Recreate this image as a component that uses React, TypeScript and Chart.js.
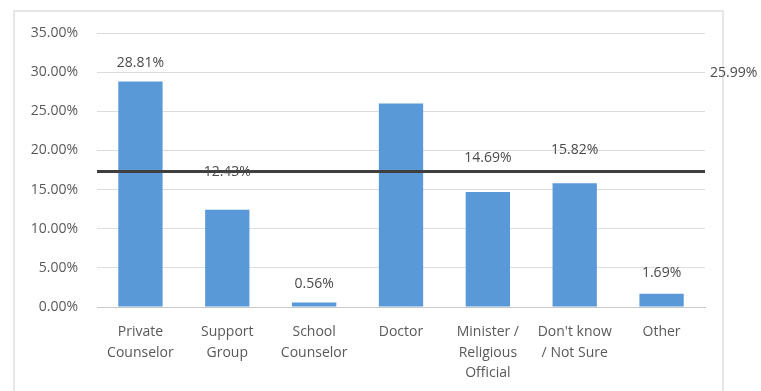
import React, { useEffect, useRef } from "react";
import { Chart, registerables } from "chart.js";

Chart.register(...registerables);

const categories: string[][] = [
  ["Private", "Counselor"],
  ["Support", "Group"],
  ["School", "Counselor"],
  ["Doctor"],
  ["Minister /", "Religious", "Official"],
  ["Don't know", "/ Not Sure"],
  ["Other"],
];
const values = [28.81, 12.43, 0.56, 25.99, 14.69, 15.82, 1.69];
const yTicks = [0, 5, 10, 15, 20, 25, 30, 35];
const referenceLine = 17.3;
// where each data label sits (axis units)
const labelY = [31.2, 17.25, 2.95, 29.9, 19.0, 20.05, 4.35];
const labelCategoryShift = [0, 0, 0, 3.83, 0, 0, 0];

const FONT = "'Open Sans', sans-serif";
const TEXT = "#595959";

const overlayPlugin = {
  id: "overlay",
  afterDatasetsDraw(chart: any) {
    const { ctx, chartArea, scales } = chart;
    const x = scales.x;
    const y = scales.y;
    ctx.save();
    const ly = y.getPixelForValue(referenceLine);
    ctx.strokeStyle = "#3f3f3f";
    ctx.lineWidth = 3;
    ctx.beginPath();
    ctx.moveTo(chartArea.left, ly);
    ctx.lineTo(chartArea.right, ly);
    ctx.stroke();
    ctx.fillStyle = "#4a4a4a";
    ctx.font = `14px ${FONT}`;
    ctx.textAlign = "center";
    ctx.textBaseline = "middle";
    const step = x.getPixelForValue(1) - x.getPixelForValue(0);
    values.forEach((v, i) => {
      const px = x.getPixelForValue(i) + labelCategoryShift[i] * step;
      const py = y.getPixelForValue(labelY[i]);
      ctx.fillText(v.toFixed(2) + "%", px, py);
    });
    ctx.restore();
  },
};

function ChartView() {
  const ref = useRef<HTMLCanvasElement>(null);
  useEffect(() => {
    if (!ref.current) return;
    const chart = new Chart(ref.current, {
      type: "bar",
      data: {
        labels: categories as any,
        datasets: [
          {
            data: values,
            backgroundColor: "#5a99d8",
            borderWidth: 0,
            barPercentage: 0.51,
            categoryPercentage: 1,
          },
        ],
      },
      options: {
        animation: false,
        responsive: false,
        maintainAspectRatio: false,
        layout: { padding: { left: 0, right: 56, top: 33, bottom: 0 } },
        plugins: { legend: { display: false }, tooltip: { enabled: false } },
        scales: {
          x: {
            grid: { display: false, drawTicks: false },
            border: { color: "#c8c8c8", width: 1 },
            ticks: {
              color: TEXT,
              font: { family: FONT, size: 14, lineHeight: 1.46 },
              padding: 15,
              maxRotation: 0,
              autoSkip: false,
            },
            afterFit(axis: any) {
              axis.height = 84;
            },
          },
          y: {
            min: 0,
            max: 35,
            afterBuildTicks(axis: any) {
              axis.ticks = yTicks.map((v) => ({ value: v }));
            },
            grid: { color: "#dcdcdc", drawTicks: false },
            border: { display: false },
            ticks: {
              color: TEXT,
              font: { family: FONT, size: 14 },
              padding: 19,
              callback: (v: any) => Number(v).toFixed(2) + "%",
            },
            afterFit(axis: any) {
              axis.width = 97;
            },
          },
        },
      },
      plugins: [overlayPlugin],
    });
    return () => chart.destroy();
  }, []);
  return (
    <div style={{ position: "fixed", left: 0, top: 0, width: 761, height: 391, overflow: "hidden", background: "#fff" }}>
      <div
        style={{
          position: "absolute",
          left: 13,
          top: 10,
          width: 711,
          height: 400,
          border: "2px solid #e6e6e6",
          boxSizing: "border-box",
        }}
      />
      <canvas ref={ref} width={761} height={391} style={{ position: "absolute", left: 0, top: 0 }} />
    </div>
  );
}

export default function App() {
  return <ChartView />;
}
